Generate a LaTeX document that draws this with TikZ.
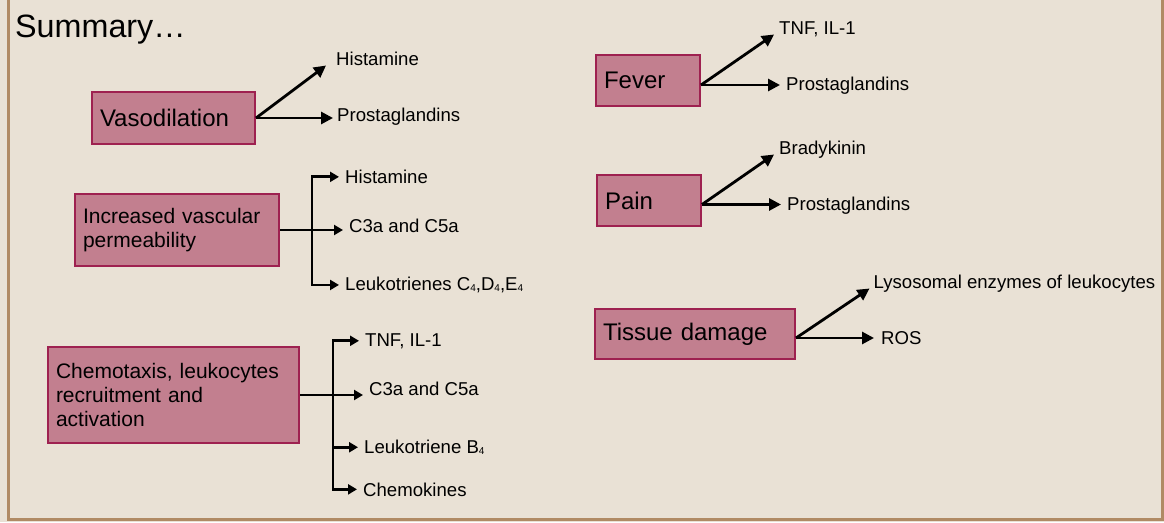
\documentclass[tikz,border=0pt]{standalone}
\usepackage{fontspec}
\setmainfont{Liberation Sans}
\usetikzlibrary{arrows.meta}
\definecolor{paper}{HTML}{E9E1D5}
\definecolor{frameline}{HTML}{B08A64}
\definecolor{boxfill}{HTML}{C27F8F}
\definecolor{boxline}{HTML}{9E2150}
\newcommand{\lowsub}[1]{\raisebox{-1pt}{\fontsize{10}{10}\selectfont #1}}
\tikzset{
  cause/.style={draw=boxline, fill=boxfill, line width=2pt, anchor=north west,
    align=left, inner xsep=8pt, inner ysep=0pt, font=\fontsize{24}{28}\selectfont},
  longcause/.style={cause, font=\fontsize{21}{24}\selectfont},
  agent/.style={anchor=base west, inner sep=0pt, font=\fontsize{18.6}{20}\selectfont},
  fanarrow/.style={-{Triangle[length=12pt,width=12pt]}, line width=2.8pt},
  busarrow/.style={-{Triangle[length=9pt,width=10pt]}, line width=2.8pt, shorten >=6pt},
}

\begin{document}
\begin{tikzpicture}[x=1pt, y=-1pt]
            \useasboundingbox (0,0) rectangle (1164,522);
            \fill[paper] (0,0) rectangle (1164,522);
            \draw[frameline, line width=2.5pt] (8.5,-5) -- (8.5,519.5) -- (1162.5,519.5) -- (1162.5,-5);
            \node[anchor=base west, inner sep=0pt, font=\fontsize{32.3}{36}\selectfont] (title) at (15,37.5) {Summary…};

            % left column
            \node[cause, text width=147pt, minimum height=52pt] (vaso) at (91,91) {Vasodilation};
            \node[longcause, text width=188pt, minimum height=72pt] (perm) at (74,193) {Increased vascular\\permeability};
            \node[longcause, text width=235pt, minimum height=96pt] (chemo) at (47,346) {Chemotaxis, leukocytes\\recruitment and\\activation};

            \node[agent] (vhis) at (336,65.5) {Histamine};
            \node[agent] (vpro) at (337,121.5) {Prostaglandins};
            \node[agent] (phis) at (345,183.5) {Histamine};
            \node[agent] (pc3a) at (349,232) {C3a and C5a};
            \node[agent] (pleu) at (345,290.5) {Leukotrienes C\lowsub{4},D\lowsub{4},E\lowsub{4}};
            \node[agent] (ctnf) at (365,346) {TNF, IL-1};
            \node[agent] (cc3a) at (369,395.5) {C3a and C5a};
            \node[agent] (cltb) at (364,453.5) {Leukotriene B\lowsub{4}};
            \node[agent] (cchk) at (363,496) {Chemokines};

            \coordinate (permbus) at (312,230);
            \coordinate (chemobus) at (333,395);

            \draw[fanarrow] (vaso.east) -- ([xshift=-10pt]vhis.base west);
            \draw[fanarrow, shorten >=4pt] (vaso.east) -- (vaso.east -| vpro.west);

            \draw[busarrow] (perm.east) -- (perm.east -| pc3a.west);
            \draw[busarrow] (permbus |- pleu.west) -- (permbus |- phis.west) -- (phis.west);
            \draw[busarrow] (permbus |- phis.west) -- (permbus |- pleu.west) -- (pleu.west);

            \draw[busarrow] (chemo.east) -- (chemo.east -| cc3a.west);
            \draw[busarrow] (chemobus |- cchk.west) -- (chemobus |- ctnf.west) -- (ctnf.west);
            \draw[busarrow] (chemobus |- ctnf.west) -- (chemobus |- cchk.west) -- (cchk.west);
            \draw[busarrow] (chemobus |- cltb.west) -- (cltb.west);

            % right column
            \node[cause, text width=88pt, minimum height=51pt] (fever) at (595,54) {Fever};
            \node[cause, text width=88pt, minimum height=51pt] (pain) at (596,174) {Pain};
            \node[cause, text width=184pt, minimum height=50pt] (tissue) at (594,308) {Tissue damage};

            \node[agent] (ftnf) at (779,34.5) {TNF, IL-1};
            \node[agent] (fpro) at (786,90.5) {Prostaglandins};
            \node[agent] (sbra) at (779,154.5) {Bradykinin};
            \node[agent] (spro) at (787,210) {Prostaglandins};
            \node[agent] (tlys) at (873.5,288.5) {Lysosomal enzymes of leukocytes};
            \node[agent] (tros) at (881,344) {ROS};

            \coordinate (feverout) at ([yshift=-4.5pt]fever.east);
            \coordinate (painout) at ([yshift=-4pt]pain.east);
            \coordinate (tissueout) at ([yshift=-4pt]tissue.east);

            \draw[fanarrow] (feverout) -- ([xshift=-5pt]ftnf.base west);
            \draw[fanarrow, shorten >=6pt] (feverout) -- (feverout -| fpro.west);
            \draw[fanarrow] (painout) -- ([xshift=-5pt]sbra.base west);
            \draw[fanarrow, shorten >=6pt] (painout) -- (painout -| spro.west);
            \draw[fanarrow] (tissueout) -- ([xshift=-4pt]tlys.base west);
            \draw[fanarrow, shorten >=7pt] (tissueout) -- (tissueout -| tros.west);
        \end{tikzpicture}
\end{document}
